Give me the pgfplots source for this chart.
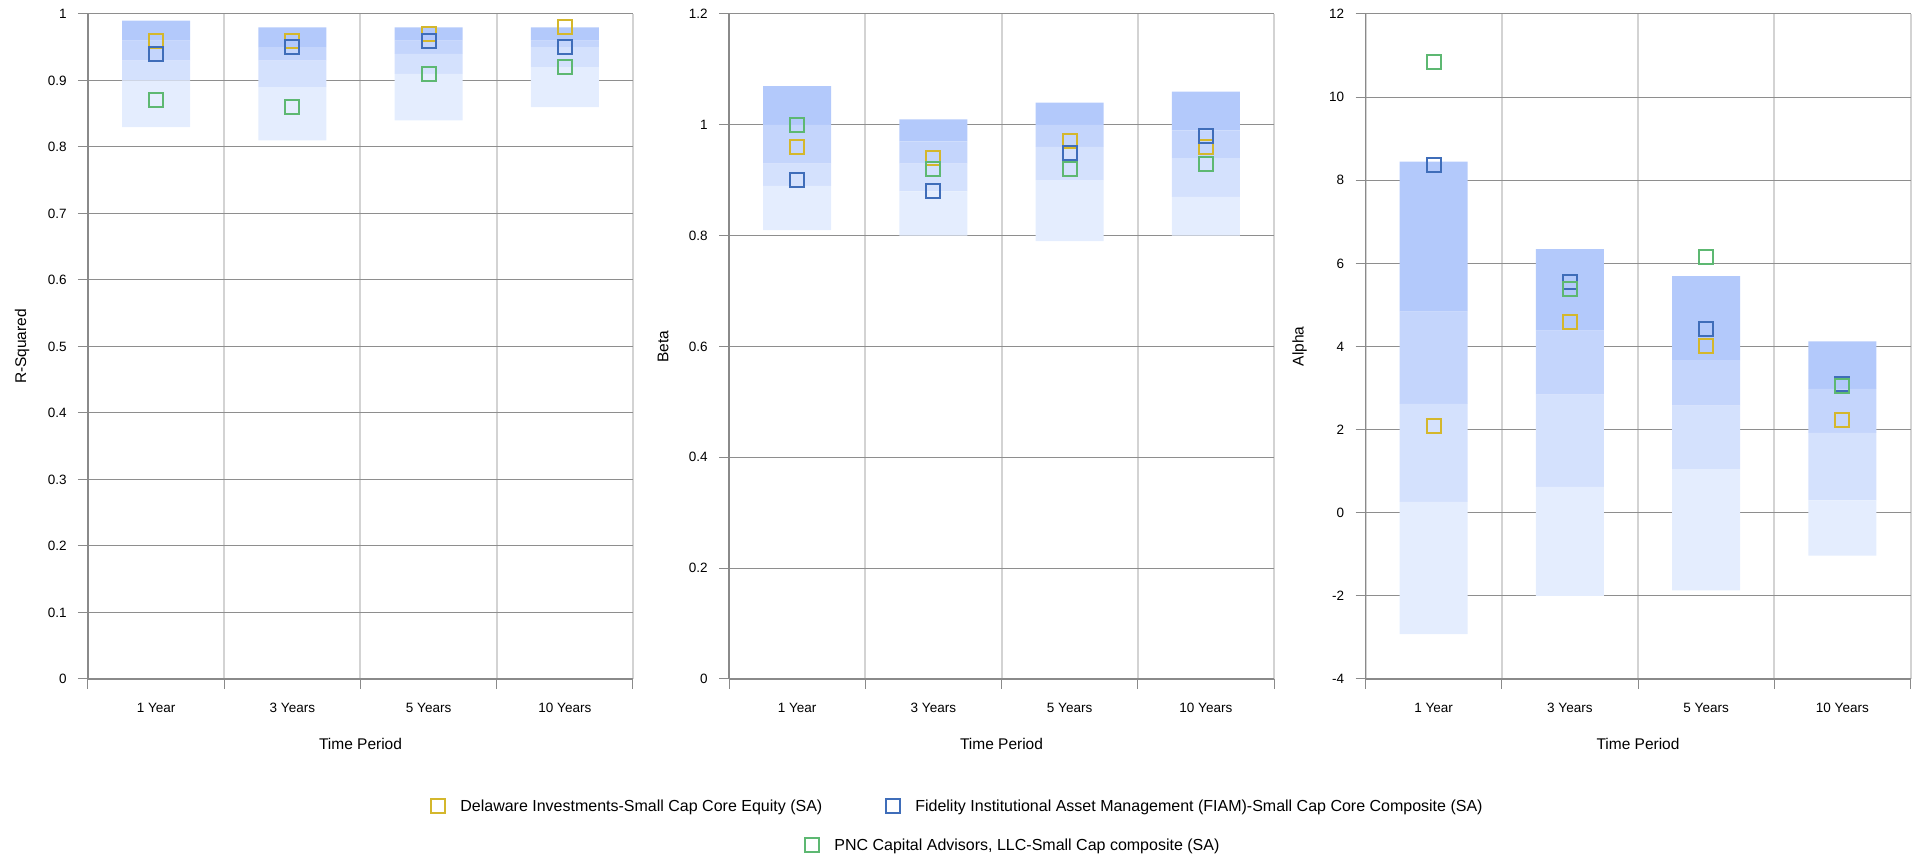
\documentclass[border=0pt]{standalone}
\usepackage{pgfplots}
\pgfplotsset{compat=1.18}
\usepackage{pgfplotstable}
\usepackage{fontspec}
\setmainfont{Liberation Sans}
\definecolor{bandA}{HTML}{B3C9FB}
\definecolor{bandB}{HTML}{C4D5FC}
\definecolor{bandC}{HTML}{D4E1FD}
\definecolor{bandD}{HTML}{E4EDFE}
\definecolor{delc}{HTML}{D4B72C}
\definecolor{fidc}{HTML}{3F6DB9}
\definecolor{pncc}{HTML}{5DB872}
\definecolor{gridc}{HTML}{8E8E8E}
\definecolor{vgridc}{HTML}{D3D3D3}
\definecolor{axisc}{HTML}{8A8A8A}

% R-Squared
\pgfplotstableread{
x p5 p25 p50 p75 p95 del fid pnc
1 0.83 0.90 0.93 0.96 0.99 0.96 0.94 0.87
2 0.81 0.89 0.93 0.95 0.98 0.96 0.95 0.86
3 0.84 0.91 0.94 0.96 0.98 0.97 0.96 0.91
4 0.86 0.92 0.95 0.96 0.98 0.98 0.95 0.92
}\rsq
% Beta
\pgfplotstableread{
x p5 p25 p50 p75 p95 del fid pnc
1 0.81 0.89 0.93 1.00 1.07 0.96 0.90 1.00
2 0.80 0.88 0.93 0.97 1.01 0.94 0.88 0.92
3 0.79 0.90 0.96 1.00 1.04 0.97 0.95 0.92
4 0.80 0.87 0.94 0.99 1.06 0.96 0.98 0.93
}\beta
% Alpha
\pgfplotstableread{
x p5 p25 p50 p75 p95 del fid pnc
1 -2.92 0.26 2.62 4.84 8.45 2.08 8.37 10.84
2 -2.00 0.62 2.84 4.38 6.34 4.59 5.54 5.38
3 -1.87 1.05 2.58 3.67 5.69 4.02 4.43 6.16
4 -1.03 0.30 1.92 2.98 4.12 2.22 3.09 3.06
}\alpha

\pgfplotsset{
  panel/.style={
    scale only axis, width=272.5pt, height=332.5pt,
    xmin=0.5, xmax=4.5,
    axis x line*=bottom, axis y line*=left,
    axis line style={draw=axisc, line width=0.6pt},
    xtick={1,2,3,4}, xticklabels={1 Year,3 Years,5 Years,10 Years},
    minor xtick={0.5,1.5,2.5,3.5,4.5},
    xminorgrids=true, ymajorgrids=true,
    minor grid style={draw=vgridc, line width=1pt},
    major grid style={draw=gridc, line width=0.5pt},
    tick align=outside, major tick length=0pt, minor tick length=5pt,
    tick style={draw=axisc, line width=0.5pt},
    ticklabel style={font=\fontsize{6.75}{8}\selectfont},
    xticklabel style={inner sep=0pt, anchor=north, text height=4.85pt, text depth=0pt, yshift=-11.6pt},
    yticklabel style={inner sep=0pt, anchor=east, xshift=-10.5pt},
    xlabel={Time Period},
    label style={font=\fontsize{7.75}{9}\selectfont},
    xlabel style={at={(axis description cs:0.5,-0.0977)}, anchor=center},
    ylabel style={at={(axis description cs:-0.1211,0.5)}, anchor=center},
    ybar stacked, stack negative=on previous, bar width=0.5,
  },
  band/.style={fill=#1, draw=none},
  marks/.style={scale only axis, width=272.5pt, height=332.5pt,
    xmin=0.5, xmax=4.5, hide axis, clip=false},
  mk/.style={only marks, mark=square, mark size=3.5pt,
    mark options={draw=#1, line width=1pt, fill=none, solid}},
  legax/.style={hide axis, scale only axis, width=10pt, height=10pt,
    xmin=0, xmax=1, ymin=0, ymax=1, anchor=west,
    legend image code/.code={\draw[##1, line width=1pt, fill=none] (0.5pt,-3.5pt) rectangle (7.5pt,3.5pt);},
    legend style={at={(axis description cs:0,0.5)}, anchor=west,
      draw=none, fill=none, inner sep=0pt,
      font=\fontsize{8}{10}\selectfont,
      cells={anchor=west},
      nodes={inner sep=0pt, text depth=0pt, text height=5.73pt},
      /tikz/every odd column/.append style={column sep=7pt},
      /tikz/every even column/.append style={column sep=31.5pt}},
  },
}

\newcommand\bands[1]{%
  \addplot[draw=none, fill=none] table[x=x, y=p5] {#1};
  \addplot[band=bandD] table[x=x, y expr=\thisrow{p25}-\thisrow{p5}] {#1};
  \addplot[band=bandC] table[x=x, y expr=\thisrow{p50}-\thisrow{p25}] {#1};
  \addplot[band=bandB] table[x=x, y expr=\thisrow{p75}-\thisrow{p50}] {#1};
  \addplot[band=bandA] table[x=x, y expr=\thisrow{p95}-\thisrow{p75}] {#1};
}
\newcommand\points[1]{%
  \addplot[mk=delc] table[x=x, y=del] {#1};
  \addplot[mk=fidc] table[x=x, y=fid] {#1};
  \addplot[mk=pncc] table[x=x, y=pnc] {#1};
}

\begin{document}
\begin{tikzpicture}
\path[use as bounding box] (0,0) rectangle (961.5pt,430pt);

% R-Squared
\begin{axis}[panel, at={(44pt,90.5pt)}, anchor=south west,
  ymin=0, ymax=1, ytick={0,0.1,0.2,0.3,0.4,0.5,0.6,0.7,0.8,0.9,1},
  minor ytick={0,0.1,0.2,0.3,0.4,0.5,0.6,0.7,0.8,0.9,1},
  yticklabels={0,0.1,0.2,0.3,0.4,0.5,0.6,0.7,0.8,0.9,1},
  ylabel={R-Squared}]
\bands{\rsq}
\end{axis}
\begin{axis}[marks, at={(44pt,90.5pt)}, anchor=south west, ymin=0, ymax=1]
\points{\rsq}
\end{axis}

% Beta
\begin{axis}[panel, at={(364.5pt,90.5pt)}, anchor=south west,
  ymin=0, ymax=1.2, ytick={0,0.2,0.4,0.6,0.8,1,1.2},
  minor ytick={0,0.2,0.4,0.6,0.8,1,1.2},
  yticklabels={0,0.2,0.4,0.6,0.8,1,1.2},
  ylabel={Beta}]
\bands{\beta}
\end{axis}
\begin{axis}[marks, at={(364.5pt,90.5pt)}, anchor=south west, ymin=0, ymax=1.2]
\points{\beta}
\end{axis}

% Alpha
\begin{axis}[panel, at={(682.75pt,90.5pt)}, anchor=south west,
  ymin=-4, ymax=12, ytick={-4,-2,0,2,4,6,8,10,12},
  minor ytick={-4,-2,0,2,4,6,8,10,12},
  yticklabels={-4,-2,0,2,4,6,8,10,12},
  ylabel={Alpha}]
\bands{\alpha}
\end{axis}
\begin{axis}[marks, at={(682.75pt,90.5pt)}, anchor=south west, ymin=-4, ymax=12]
\points{\alpha}
\end{axis}

% Legend row 1
\begin{axis}[legax, at={(215pt,27pt)}, legend columns=2]
\addlegendimage{draw=delc}
\addlegendentry{Delaware Investments-Small Cap Core Equity (SA)}
\addlegendimage{draw=fidc}
\addlegendentry{Fidelity Institutional Asset Management (FIAM)-Small Cap Core Composite (SA)}
\end{axis}
% Legend row 2
\begin{axis}[legax, at={(402pt,7.5pt)}, legend columns=1]
\addlegendimage{draw=pncc}
\addlegendentry{PNC Capital Advisors, LLC-Small Cap composite (SA)}
\end{axis}
\end{tikzpicture}
\end{document}
